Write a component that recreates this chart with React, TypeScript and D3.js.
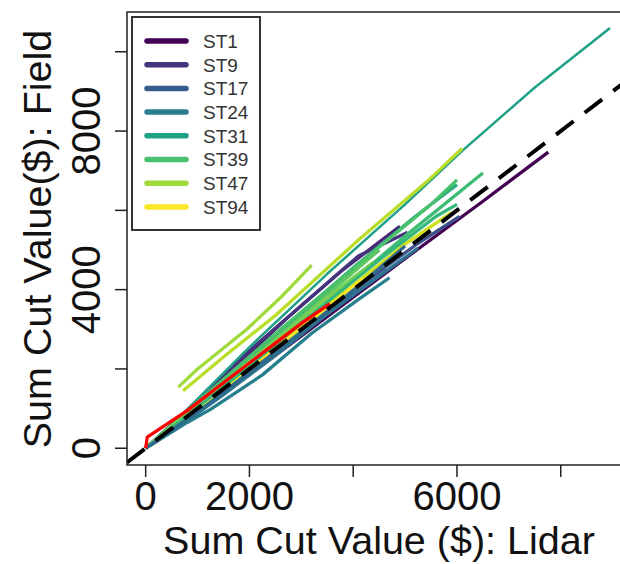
import React from 'react';
import * as d3 from 'd3';

// ---- data ----
const xTicks = [0, 2000, 4000, 6000, 8000];
const xTickLabels = ['0', '2000', '', '6000', ''];
const yTicks = [0, 2000, 4000, 6000, 8000, 10000];
const yTickLabels = ['0', '', '4000', '', '8000', ''];
const xLim = [-360, 9360];
const yLim = [-423, 11003];

const legendNames = ['ST1', 'ST9', 'ST17', 'ST24', 'ST31', 'ST39', 'ST47', 'ST94'];
const legendColors = ['#440154', '#46337E', '#365C8D', '#277F8E', '#1FA187', '#4AC16D', '#9FDA3A', '#FDE725'];

const seriesColors = [
  '#440154', '#482475', '#46337E', '#414487', '#3B528B', '#365C8D', '#2C728E', '#277F8E',
  '#21918C', '#1FA187', '#28AE80', '#3FBC73', '#4AC16D', '#5EC962', '#75D054', '#9FDA3A',
  '#B8DE29', '#D0E11C', '#FDE725', '#2A788E', '#35B779', '#31688E',
];

const seriesPoints: [number, number][][] = [
  [[0, 0], [900, 820], [2100, 1950], [3600, 3420], [5100, 4880], [6500, 6230], [7760, 7470]],
  [[0, 0], [600, 650], [1600, 1900], [2700, 3250], [3800, 4500], [4900, 5600]],
  [[0, 0], [800, 950], [1900, 2350], [3000, 3600], [4100, 4850], [5050, 5450]],
  [[0, 0], [500, 560], [1300, 1500], [2400, 2750], [3500, 3950], [4500, 5000]],
  [[0, 0], [1000, 950], [2500, 2480], [4000, 3980], [5200, 5120], [6050, 5850]],
  [[0, 0], [900, 820], [2200, 2100], [3500, 3400], [4650, 4500]],
  [[0, 0], [800, 700], [1800, 1700], [3000, 2900], [4300, 4150], [5250, 5050]],
  [[0, 0], [800, 650], [1250, 980], [2250, 1850], [3200, 2900], [4150, 3800], [4700, 4300]],
  [[0, 0], [1000, 950], [2400, 2300], [3800, 3800], [4800, 4900]],
  [[0, 0], [800, 980], [2000, 2550], [3500, 4400], [5000, 6150], [6100, 7500], [7500, 9100], [8950, 10600]],
  [[0, 0], [1000, 1100], [2500, 2850], [4000, 4550], [5200, 5850], [6000, 6650]],
  [[0, 0], [900, 900], [2200, 2300], [3600, 3800], [5000, 5350], [6500, 6940]],
  [[0, 0], [1100, 1280], [2600, 3000], [4200, 4750], [5500, 6150], [6000, 6770]],
  [[0, 0], [1200, 1300], [2400, 2650], [3700, 4100], [4500, 5000]],
  [[0, 0], [1000, 1100], [2300, 2500], [3500, 3800], [4400, 4700]],
  [[630, 1540], [1000, 2000], [1950, 3000], [2600, 3800], [3200, 4620]],
  [[720, 1450], [1500, 2300], [2500, 3350], [4100, 5250], [5400, 6700], [6100, 7560]],
  [[0, 0], [1300, 1350], [2600, 2700], [3900, 4000], [5000, 5150], [5900, 5950]],
  [[0, 0], [1100, 1120], [2200, 2230], [3300, 3350], [4200, 4280]],
  [[0, 0], [700, 600], [1500, 1350], [2600, 2450], [3600, 3500]],
  [[0, 0], [1500, 1550], [3000, 3150], [4500, 4750], [5600, 5850], [6000, 6150]],
  [[0, 0], [1200, 1100], [2800, 2700], [4200, 4200], [5000, 5100]],
];

const redPoints: [number, number][] = [[0, 0], [30, 280], [800, 950], [1500, 1650], [2300, 2450], [3000, 3150], [3550, 3650]];

const FONT = '"Liberation Sans", Arial, Helvetica, sans-serif';

export default function App() {
  const W = 620;
  const H = 564;
  const x = d3.scaleLinear().domain(xLim).range([127, 631.3]);
  const y = d3.scaleLinear().domain(yLim).range([465, 12]);
  const line = d3
    .line<[number, number]>()
    .x((d) => x(d[0]))
    .y((d) => y(d[1]));

  const left = x(xLim[0]);
  const right = x(xLim[1]);
  const top = y(yLim[1]);
  const bottom = y(yLim[0]);

  const legX = 132;
  const legY = 17;
  const legStep = 23.7;

  return (
    <svg
      width={W}
      height={H}
      style={{ position: 'absolute', left: 0, top: 0, background: '#fff' }}
      fontFamily={FONT}
    >
      <defs>
        <clipPath id="plotclip">
          <rect x={left} y={top} width={right - left} height={bottom - top} />
        </clipPath>
      </defs>
      <rect x={0} y={0} width={W} height={H} fill="#fff" />
      <g clipPath="url(#plotclip)">
        {seriesPoints.map((pts, i) => (
          <path
            key={i}
            d={line(pts) || ''}
            fill="none"
            stroke={seriesColors[i]}
            strokeWidth={i === 9 ? 2.5 : 3.3}
            strokeLinejoin="round"
          />
        ))}
        <path d={line(redPoints) || ''} fill="none" stroke="#FF0000" strokeWidth={3.3} strokeLinejoin="round" />
        <line
          x1={x(xLim[0])}
          y1={y(xLim[0])}
          x2={x(xLim[1])}
          y2={y(xLim[1])}
          stroke="#000"
          strokeWidth={4}
          strokeDasharray="22,14"
        />
      </g>
      {/* plot box */}
      <rect x={left} y={top} width={right - left} height={bottom - top} fill="none" stroke="#222" strokeWidth={1.5} />

      {/* x axis */}
      {xTicks.map((v, i) => (
        <g key={'xt' + i}>
          <line x1={x(v)} x2={x(v)} y1={bottom} y2={bottom + 12} stroke="#222" strokeWidth={1.5} />
          {xTickLabels[i] && (
            <text x={x(v)} y={510} textAnchor="middle" fontSize={40} fill="#111">
              {xTickLabels[i]}
            </text>
          )}
        </g>
      ))}
      {/* y axis */}
      {yTicks.map((v, i) => (
        <g key={'yt' + i}>
          <line x1={left - 12} x2={left} y1={y(v)} y2={y(v)} stroke="#222" strokeWidth={1.5} />
          {yTickLabels[i] && (
            <text
              transform={`translate(100,${y(v)}) rotate(-90)`}
              textAnchor="middle"
              fontSize={40}
              fill="#111"
            >
              {yTickLabels[i]}
            </text>
          )}
        </g>
      ))}
      <text x={379} y={554} textAnchor="middle" fontSize={39.5} fill="#111">
        Sum Cut Value ($): Lidar
      </text>
      <text transform={`translate(51,239) rotate(-90)`} textAnchor="middle" fontSize={39.5} fill="#111">
        Sum Cut Value($): Field
      </text>

      {/* legend */}
      <rect x={legX} y={legY} width={128} height={213} fill="#fff" stroke="#333" strokeWidth={2} />
      {legendNames.map((n, i) => (
        <g key={n}>
          <line
            x1={147}
            x2={186}
            y1={legY + 24 + i * legStep}
            y2={legY + 24 + i * legStep}
            stroke={legendColors[i]}
            strokeWidth={5.5}
            strokeLinecap="round"
          />
          <text x={203} y={legY + 24 + i * legStep} dy="0.36em" fontSize={19} fill="#333">
            {n}
          </text>
        </g>
      ))}
    </svg>
  );
}
